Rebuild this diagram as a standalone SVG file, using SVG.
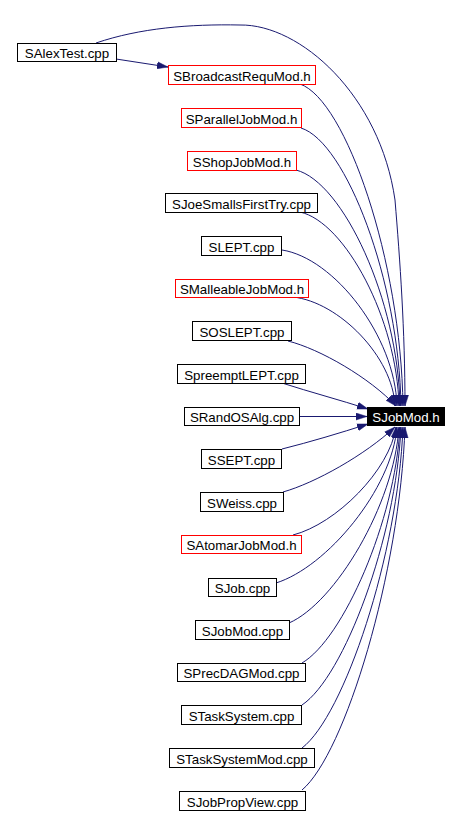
<svg xmlns="http://www.w3.org/2000/svg" width="460" height="816" viewBox="0 0 460 816">
<style>
.n rect{fill:#fff;stroke:#000;stroke-width:1}
.n.r rect{stroke:#ff0000}
.n text{font-family:"Liberation Sans",Arial,sans-serif;font-size:13.3px;fill:#000;text-anchor:middle}
.n.f rect{fill:#000;stroke:#000}
.n.f text{fill:#fff}
#edges path{fill:none;stroke:#191970;stroke-width:1;marker-end:url(#arr)}
</style>
<defs>
<marker id="arr" markerWidth="11" markerHeight="8" refX="11" refY="4" orient="auto" markerUnits="userSpaceOnUse">
<path d="M0,0.5 L11,4 L0,7.5 z" fill="#191970" stroke="#191970" stroke-width="0.5"/>
</marker>
</defs>
<rect width="460" height="816" fill="#fff"/>
<g id="edges">
<path d="M116,59 L168,67"/>
<path d="M96,43 C140,28 190,24 240,25 C300,24 380,95 395,200 C400,260 405,330 405,406"/>
<path d="M300,84 C346,100 401,261 403,406"/>
<path d="M301,128 C346,142 399,281 401,406"/>
<path d="M296,170 C343,182 398,300 400,406"/>
<path d="M300,212 C345,222 397,319 399,406"/>
<path d="M282,250 C334,258 395,336 397,406"/>
<path d="M293,297 C339,302 393,357 395,406"/>
<path d="M288,341 C320,349 370,378 396,406"/>
<path d="M282,383 C310,392 340,400 368,409"/>
<path d="M299,416.5 L367,416.5"/>
<path d="M282,449 C310,442 340,433 368,424"/>
<path d="M283,492 C315,483 365,455 395,427"/>
<path d="M293,535 C336,524 390,470 396,427"/>
<path d="M276,583 C327,567 392,489 397,427"/>
<path d="M289,623 C335,603 394,505 399,427"/>
<path d="M302,663 C343,639 395,521 400,427"/>
<path d="M302,705 C344,677 396,538 401,427"/>
<path d="M302,748 C344,716 398,555 403,427"/>
<path d="M302,790 C345,754 400,572 405,427"/>
</g>
<g id="SAlexTest" class="n"><rect x="17.5" y="43.5" width="99" height="18"/><text x="67" y="58">SAlexTest.cpp</text></g>
<g id="SBroadcastRequMod" class="n r"><rect x="168.5" y="65.5" width="147" height="19"/><text x="242" y="80.5">SBroadcastRequMod.h</text></g>
<g id="SParallelJobMod" class="n r"><rect x="181.5" y="108.5" width="120" height="19"/><text x="241.5" y="123.5">SParallelJobMod.h</text></g>
<g id="SShopJobMod" class="n r"><rect x="187.5" y="151.5" width="109" height="19"/><text x="242" y="166.5">SShopJobMod.h</text></g>
<g id="SJoeSmallsFirstTry" class="n"><rect x="165.5" y="193.5" width="152" height="19"/><text x="241.5" y="208.5">SJoeSmallsFirstTry.cpp</text></g>
<g id="SLEPT" class="n"><rect x="201.5" y="236.5" width="80" height="19"/><text x="241.5" y="251.5">SLEPT.cpp</text></g>
<g id="SMalleableJobMod" class="n r"><rect x="175.5" y="279.5" width="133" height="18"/><text x="242" y="294">SMalleableJobMod.h</text></g>
<g id="SOSLEPT" class="n"><rect x="192.5" y="321.5" width="99" height="19"/><text x="242" y="336.5">SOSLEPT.cpp</text></g>
<g id="SpreemptLEPT" class="n"><rect x="177.5" y="364.5" width="128" height="19"/><text x="241.5" y="379.5">SpreemptLEPT.cpp</text></g>
<g id="SRandOSAlg" class="n"><rect x="184.5" y="407.5" width="115" height="18"/><text x="242" y="422">SRandOSAlg.cpp</text></g>
<g id="SJobMod_h" class="n f"><rect x="367.5" y="407.5" width="77" height="18"/><text x="406" y="422">SJobMod.h</text></g>
<g id="SSEPT" class="n"><rect x="201.5" y="449.5" width="80" height="19"/><text x="241.5" y="464.5">SSEPT.cpp</text></g>
<g id="SWeiss" class="n"><rect x="200.5" y="492.5" width="83" height="19"/><text x="242" y="507.5">SWeiss.cpp</text></g>
<g id="SAtomarJobMod" class="n r"><rect x="181.5" y="535.5" width="120" height="18"/><text x="241.5" y="550">SAtomarJobMod.h</text></g>
<g id="SJob" class="n"><rect x="208.5" y="578.5" width="68" height="18"/><text x="242.5" y="593">SJob.cpp</text></g>
<g id="SJobMod_cpp" class="n"><rect x="195.5" y="620.5" width="94" height="19"/><text x="242.5" y="635.5">SJobMod.cpp</text></g>
<g id="SPrecDAGMod" class="n"><rect x="177.5" y="663.5" width="128" height="18"/><text x="241.5" y="678">SPrecDAGMod.cpp</text></g>
<g id="STaskSystem" class="n"><rect x="181.5" y="705.5" width="120" height="19"/><text x="241.5" y="720.5">STaskSystem.cpp</text></g>
<g id="STaskSystemMod" class="n"><rect x="169.5" y="748.5" width="145" height="19"/><text x="242" y="763.5">STaskSystemMod.cpp</text></g>
<g id="SJobPropView" class="n"><rect x="179.5" y="791.5" width="126" height="19"/><text x="242.5" y="806.5">SJobPropView.cpp</text></g>
</svg>
